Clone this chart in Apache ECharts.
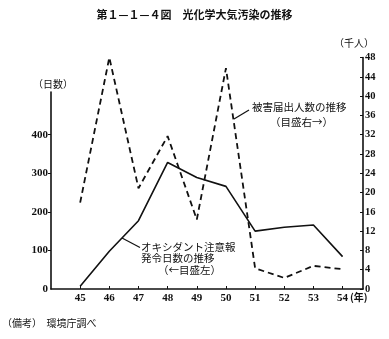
<!DOCTYPE html>
<html>
<head>
<meta charset="utf-8">
<script src="https://cdn.jsdelivr.net/npm/echarts@6/dist/echarts.min.js"></script>
<style>
  html, body { margin: 0; padding: 0; background: #fff; }
  #chart { width: 389px; height: 339px; }
</style>
</head>
<body>
<div id="chart"></div>
<script>
// 年（昭和）
var years = [45, 46, 47, 48, 49, 50, 51, 52, 53, 54];
// オキシダント注意報発令日数（日）— 左目盛
var warningDays = [7, 98, 177, 328, 289, 266, 150, 160, 166, 84];
// 被害届出人数（千人）— 右目盛
var victims = [17.9, 48.0, 20.9, 31.7, 14.4, 45.8, 4.3, 2.3, 4.8, 4.1];
// 目盛
var leftTicks = [0, 100, 200, 300, 400];
var rightMax = 48;
var rightStep = 4;

var CJK = '"Noto Sans CJK JP", "Noto Sans CJK SC", sans-serif';
var NUM = '"Liberation Serif", "DejaVu Serif", serif';

function pairs(ys) {
  return years.map(function (y, i) { return [y, ys[i]]; });
}

var chart = echarts.init(document.getElementById('chart'), null, { renderer: 'canvas' });

chart.setOption({
  animation: false,
  backgroundColor: '#fff',
  grid: [
    { left: 51, right: 26, top: 57.5, bottom: 50 },
    // 左目盛の軸線だけを描くための枠
    { left: 51, right: 26, top: 92, bottom: 50 }
  ],
  xAxis: [
    {
      gridIndex: 0, type: 'value', min: 44, max: 54.7,
      axisLine: { show: true, lineStyle: { color: '#111', width: 1.6 } },
      axisTick: { show: true, inside: true, length: 3, customValues: years, lineStyle: { color: '#111' } },
      axisLabel: {
        customValues: years, color: '#111', fontFamily: NUM, fontWeight: 'bold',
        fontSize: 11, margin: 4
      },
      splitLine: { show: false }
    },
    {
      gridIndex: 1, type: 'value', min: 0, max: 1, show: false
    }
  ],
  yAxis: [
    {
      gridIndex: 0, type: 'value', position: 'left', min: 0, max: 600,
      axisLine: { show: false },
      axisTick: { show: true, inside: false, length: 3, customValues: leftTicks.slice(1), lineStyle: { color: '#111' } },
      axisLabel: {
        customValues: leftTicks, color: '#111', fontFamily: NUM, fontWeight: 'bold',
        fontSize: 11, margin: 3
      },
      splitLine: { show: false }
    },
    {
      gridIndex: 0, type: 'value', position: 'right', min: 0, max: rightMax, interval: rightStep,
      axisLine: { show: true, lineStyle: { color: '#111', width: 1.6 } },
      axisTick: { show: true, inside: true, length: 3, lineStyle: { color: '#111' } },
      axisLabel: {
        color: '#111', fontFamily: NUM, fontWeight: 'bold', fontSize: 10.5, margin: 2
      },
      splitLine: { show: false }
    },
    {
      gridIndex: 1, type: 'value', position: 'left', min: 0, max: 1,
      axisLine: { show: true, lineStyle: { color: '#111', width: 1.6 } },
      axisTick: { show: false }, axisLabel: { show: false }, splitLine: { show: false }
    }
  ],
  series: [
    {
      name: 'オキシダント注意報発令日数',
      type: 'line', xAxisIndex: 0, yAxisIndex: 0,
      data: pairs(warningDays),
      symbol: 'none',
      lineStyle: { color: '#111', width: 1.6, type: 'solid' }
    },
    {
      name: '被害届出人数',
      type: 'line', xAxisIndex: 0, yAxisIndex: 1,
      data: pairs(victims),
      symbol: 'none',
      lineStyle: { color: '#111', width: 1.8, type: [6, 4] }
    }
  ],
  graphic: [
    {
      type: 'text', left: 'center', top: 9,
      style: { text: '第１—１—４図　光化学大気汚染の推移', font: 'bold 11px ' + CJK, fill: '#111' }
    },
    {
      type: 'text', x: 33, y: 79,
      style: { text: '（日数）', font: '10px ' + CJK, fill: '#111' }
    },
    {
      type: 'text', x: 334, y: 38,
      style: { text: '（千人）', font: '10px ' + CJK, fill: '#111' }
    },
    {
      type: 'text', x: 350, y: 292,
      style: { text: '(年)', font: 'bold 10px ' + CJK, fill: '#111' }
    },
    // 被害届出人数の注記
    {
      type: 'line', shape: { x1: 234, y1: 119, x2: 249, y2: 110 },
      style: { stroke: '#111', lineWidth: 1.2 }
    },
    {
      type: 'text', x: 252, y: 102,
      style: { text: '被害届出人数の推移', font: '10.5px ' + CJK, fill: '#111' }
    },
    {
      type: 'text', x: 270, y: 117,
      style: { text: '（目盛右→）', font: '10.5px ' + CJK, fill: '#111' }
    },
    // オキシダント注意報の注記
    {
      type: 'line', shape: { x1: 122, y1: 238, x2: 140, y2: 247.5 },
      style: { stroke: '#111', lineWidth: 1.2 }
    },
    {
      type: 'text', x: 141, y: 241.5,
      style: { text: 'オキシダント注意報', font: '10.5px ' + CJK, fill: '#111' }
    },
    {
      type: 'text', x: 141, y: 252.5,
      style: { text: '発令日数の推移', font: '10.5px ' + CJK, fill: '#111' }
    },
    {
      type: 'text', x: 158, y: 264.5,
      style: { text: '（←目盛左）', font: '10.5px ' + CJK, fill: '#111' }
    },
    {
      type: 'text', x: 2, y: 318,
      style: { text: '（備考）  環境庁調べ', font: '10px ' + CJK, fill: '#111' }
    }
  ]
});
</script>
</body>
</html>
